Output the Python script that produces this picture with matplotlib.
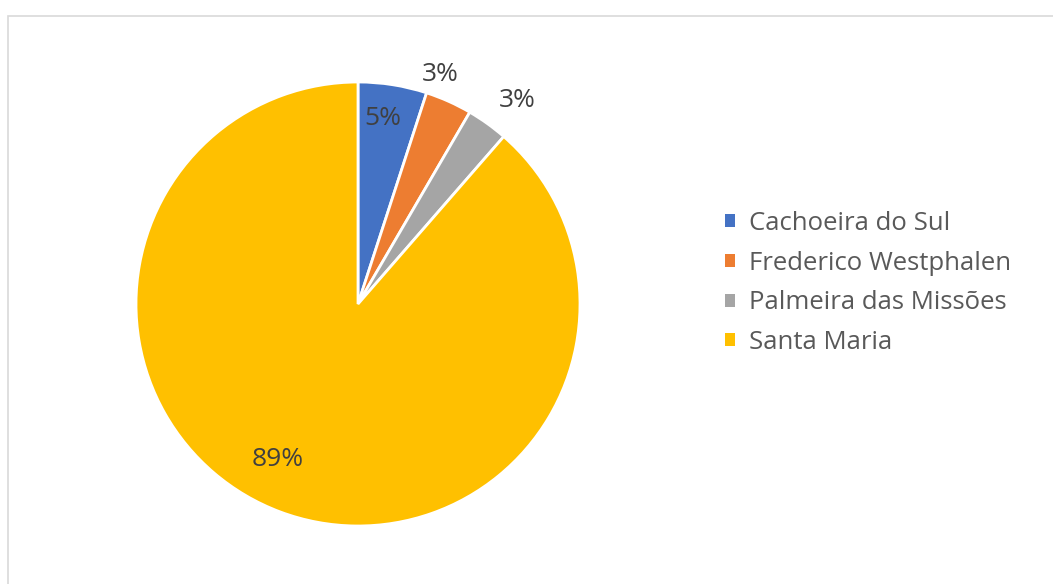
import numpy as np
import matplotlib
matplotlib.use("Agg")
import matplotlib.pyplot as plt
from matplotlib.patches import Rectangle, Patch

plt.rcParams['font.family'] = ['Open Sans', 'DejaVu Sans']

cities = ["Cachoeira do Sul", "Frederico Westphalen", "Palmeira das Missões", "Santa Maria"]
values = [5.0, 3.4, 3.0, 88.6]
colors = ["#4472C4", "#ED7D31", "#A5A5A5", "#FFC000"]
# label placement: radius (in pie radii) and angular nudge from wedge middle (deg, clockwise)
label_r = [0.845, 1.10, 1.165, 0.79]
label_nudge = [-1.3, -4.4, 2.3, 6.7]

fig = plt.figure(figsize=(10.53, 5.84), dpi=100)
# chart area border
fig.patches.append(Rectangle((8/1053, -0.05), 1.1, 1 - 16/584 + 0.05,
                             transform=fig.transFigure, fill=False,
                             edgecolor="#D9D9D9", linewidth=1.2))

ax = fig.add_axes([136/1053, 58/584, 444/1053, 444/584])
wedges, _ = ax.pie(values, colors=colors, startangle=90, counterclock=False,
                   radius=1, wedgeprops=dict(edgecolor="white", linewidth=2))
ax.set_xlim(-1, 1)
ax.set_ylim(-1, 1)
ax.set_aspect("equal")
ax.axis("off")

total = sum(values)
for w, v, r, nd in zip(wedges, values, label_r, label_nudge):
    mid = np.deg2rad((w.theta1 + w.theta2) / 2 - nd)
    ax.text(r*np.cos(mid), r*np.sin(mid), "%d%%" % round(v/total*100),
            ha="center", va="center", fontsize=19, color="#404040", clip_on=False)

handles = [Patch(facecolor=c, edgecolor="none") for c in colors]
fig.legend(handles, cities, loc="center left", bbox_to_anchor=(725/1053, 1 - 283/584),
           frameon=False, fontsize=18.5, handlelength=0.4, handleheight=0.4,
           handletextpad=0.55, labelspacing=0.57, borderpad=0, borderaxespad=0,
           labelcolor="#595959")

fig.savefig("out.png", dpi=100)
